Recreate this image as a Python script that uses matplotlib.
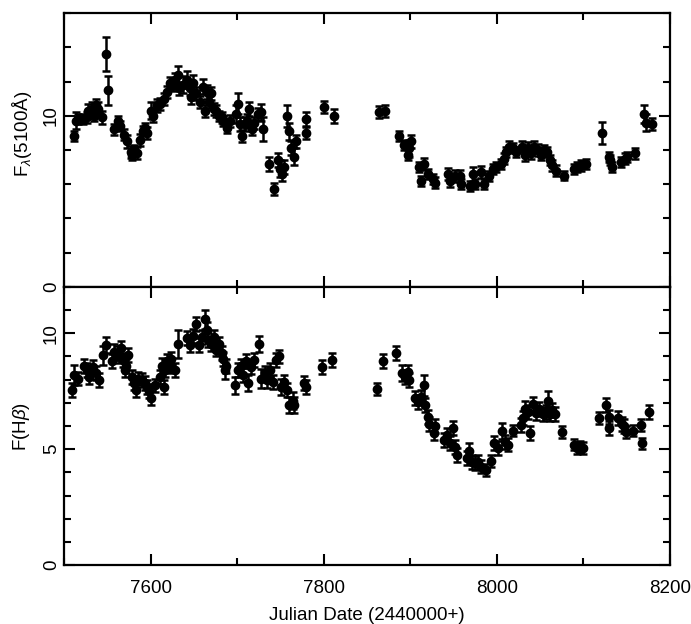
import matplotlib
matplotlib.use("Agg")
import matplotlib.pyplot as plt
from matplotlib.ticker import MultipleLocator
import numpy as np

plt.rcParams['font.family'] = ['Liberation Sans', 'DejaVu Sans']
plt.rcParams['mathtext.fontset'] = 'custom'
plt.rcParams['mathtext.rm'] = 'Liberation Sans'
plt.rcParams['mathtext.it'] = 'Liberation Sans:italic'

# continuum flux F_lambda(5100A): date, flux, error
cont_jd = [7511, 7514, 7516, 7522, 7526, 7528, 7532, 7535, 7537, 7539, 7544, 7548, 7551,
           7558, 7562, 7565, 7569, 7573, 7577, 7579, 7581, 7584, 7588, 7591, 7594, 7596,
           7600, 7603, 7607, 7611, 7615, 7619, 7622, 7626, 7628, 7632, 7633, 7638, 7642,
           7645, 7647, 7649, 7653, 7657, 7661, 7663, 7665, 7668, 7670, 7673, 7676, 7679,
           7682, 7684, 7688, 7692, 7699, 7701, 7703, 7706, 7709, 7711, 7714, 7717, 7720,
           7724, 7728, 7730, 7737, 7743, 7747, 7749, 7752, 7754, 7758, 7760, 7762, 7766,
           7768, 7779, 7780, 7800, 7812,
           7864, 7871, 7887, 7893, 7897, 7899, 7901, 7910, 7912, 7916, 7920, 7926, 7929,
           7943, 7946, 7952, 7957, 7959, 7969, 7972, 7975, 7982, 7985, 7991, 7996, 7999,
           8005, 8008, 8011, 8014, 8019, 8022, 8029, 8032, 8036, 8040, 8043, 8047, 8051,
           8055, 8058, 8061, 8064, 8068, 8078, 8089, 8093, 8097, 8103, 8122, 8129, 8131,
           8133, 8143, 8148, 8150, 8160, 8170, 8172, 8179]
cont_flux = [8.8, 9.7, 9.8, 9.8, 9.9, 10.3, 10.4, 10.0, 10.6, 10.4, 9.9, 13.6, 11.5,
             9.2, 9.7, 9.4, 8.9, 8.5, 7.9, 7.7, 8.0, 7.8, 8.6, 9.1, 9.3, 9.0,
             10.3, 10.0, 10.6, 10.7, 11.0, 11.4, 11.9, 11.8, 12.1, 12.4, 11.6, 11.8, 12.1,
             11.6, 11.1, 11.9, 11.3, 10.8, 11.7, 10.3, 11.4, 10.8, 11.3, 10.4, 10.3, 10.0,
             9.9, 9.7, 9.3, 9.7, 10.1, 10.7, 9.5, 8.8, 9.5, 9.7, 10.4, 9.2, 9.6,
             10.1, 10.2, 9.2, 7.2, 5.7, 7.4, 6.9, 6.6, 7.0, 10.0, 9.1, 8.1, 7.6,
             8.5, 9.0, 9.8, 10.5, 10.0,
             10.2, 10.3, 8.8, 8.3, 7.7, 8.1, 8.5, 7.0, 6.2, 7.2, 6.6, 6.3, 6.1,
             6.6, 6.2, 6.5, 6.5, 6.0, 5.9, 6.6, 6.0, 6.7, 6.0, 6.5, 6.9, 7.0,
             7.2, 7.5, 7.9, 8.2, 8.1, 7.9, 8.2, 7.7, 8.1, 7.8, 8.2, 8.0, 7.7,
             8.0, 7.9, 7.4, 7.1, 6.8, 6.5, 6.9, 7.0, 7.1, 7.2, 9.0, 7.6, 7.4,
             7.0, 7.3, 7.5, 7.6, 7.8, 10.1, 9.6, 9.5]
cont_err = [0.3, 0.5, 0.3, 0.3, 0.3, 0.4, 0.4, 0.3, 0.4, 0.4, 0.4, 1.0, 0.85,
            0.3, 0.3, 0.3, 0.3, 0.4, 0.35, 0.3, 0.3, 0.35, 0.35, 0.3, 0.3, 0.35,
            0.5, 0.35, 0.4, 0.35, 0.35, 0.35, 0.35, 0.35, 0.4, 0.5, 0.4, 0.5, 0.5,
            0.4, 0.4, 0.5, 0.4, 0.35, 0.45, 0.35, 0.4, 0.35, 0.4, 0.35, 0.35, 0.3,
            0.3, 0.3, 0.3, 0.35, 0.5, 0.6, 0.4, 0.35, 0.4, 0.4, 0.4, 0.35, 0.35,
            0.35, 0.5, 0.7, 0.4, 0.35, 0.4, 0.5, 0.4, 0.4, 0.65, 0.5, 0.4, 0.5,
            0.4, 0.35, 0.4, 0.35, 0.4,
            0.35, 0.35, 0.3, 0.3, 0.3, 0.5, 0.4, 0.3, 0.3, 0.35, 0.3, 0.3, 0.3,
            0.35, 0.35, 0.35, 0.35, 0.3, 0.3, 0.4, 0.3, 0.35, 0.3, 0.3, 0.3, 0.3,
            0.3, 0.3, 0.3, 0.3, 0.3, 0.3, 0.3, 0.35, 0.35, 0.35, 0.35, 0.35, 0.3,
            0.3, 0.3, 0.3, 0.3, 0.3, 0.25, 0.3, 0.3, 0.3, 0.3, 0.65, 0.3, 0.3,
            0.3, 0.3, 0.3, 0.3, 0.3, 0.5, 0.5, 0.35]

# H-beta line flux: date, flux, error
hb_jd = [7509, 7512, 7516, 7523, 7526, 7529, 7532, 7534, 7537, 7541, 7545, 7548, 7555,
         7558, 7562, 7564, 7566, 7568, 7570, 7572, 7574, 7578, 7581, 7583, 7586, 7590,
         7593, 7596, 7598, 7600, 7605, 7611, 7613, 7615, 7617, 7619, 7623, 7624, 7628,
         7632, 7642, 7645, 7649, 7652, 7656, 7659, 7663, 7665, 7666, 7670, 7673, 7676,
         7679, 7682, 7684, 7686, 7687, 7698, 7701, 7705, 7707, 7710, 7712, 7716, 7719,
         7725, 7728, 7732, 7735, 7738, 7741, 7745, 7748, 7751, 7754, 7758, 7760, 7764,
         7766, 7777, 7779, 7798, 7810,
         7861, 7868, 7884, 7891, 7894, 7897, 7899, 7905, 7909, 7912, 7916, 7917, 7920,
         7922, 7929, 7927, 7939, 7942, 7946, 7949, 7952, 7954, 7965, 7968, 7971, 7975,
         7978, 7982, 7988, 7993, 7997, 8001, 8006, 8009, 8013, 8019, 8028, 8030, 8032,
         8036, 8038, 8042, 8045, 8049, 8053, 8057, 8059, 8061, 8064, 8067, 8075, 8089,
         8092, 8096, 8100, 8118, 8126, 8129, 8130, 8140, 8144, 8147, 8149, 8157, 8167,
         8168, 8176]
hb_flux = [7.55, 8.2, 8.05, 8.6, 8.4, 8.1, 8.35, 8.55, 8.3, 8.0, 9.05, 9.5, 8.8,
           9.2, 9.15, 9.0, 9.35, 8.85, 8.4, 8.6, 9.05, 8.1, 7.85, 7.55, 8.05, 8.0,
           7.85, 7.7, 7.5, 7.2, 7.75, 8.1, 8.6, 7.7, 8.4, 8.8, 8.6, 8.9, 8.4,
           9.55, 9.8, 9.5, 9.9, 10.4, 9.5, 9.85, 10.6, 10.15, 9.7, 9.55, 9.85, 9.3,
           9.55, 9.15, 8.9, 8.4, 8.6, 7.75, 8.4, 8.6, 8.2, 8.8, 7.85, 8.55, 8.85,
           9.55, 8.05, 8.3, 8.0, 8.4, 7.9, 8.85, 9.0, 7.7, 7.9, 7.55, 6.9, 7.1,
           6.9, 7.85, 7.7, 8.55, 8.85,
           7.6, 8.8, 9.15, 8.3, 8.1, 8.35, 8.0, 7.2, 7.05, 7.25, 7.75, 6.9, 6.4,
           6.1, 6.0, 5.7, 5.4, 5.6, 5.25, 5.9, 5.1, 4.75, 4.6, 4.9, 4.45, 4.4,
           4.45, 4.25, 4.1, 4.5, 5.25, 5.05, 5.8, 5.3, 5.2, 5.8, 6.05, 6.35, 6.75,
           6.6, 5.7, 6.95, 6.55, 6.75, 6.5, 6.6, 7.1, 6.5, 6.7, 6.5, 5.75, 5.2,
           5.05, 5.1, 5.05, 6.35, 6.9, 6.4, 5.9, 6.35, 6.1, 6.0, 5.75, 5.8, 6.05,
           5.25, 6.6]
hb_err = [0.3, 0.45, 0.3, 0.3, 0.3, 0.3, 0.3, 0.3, 0.3, 0.3, 0.4, 0.35, 0.3,
          0.35, 0.3, 0.3, 0.3, 0.3, 0.3, 0.3, 0.3, 0.3, 0.3, 0.3, 0.3, 0.3,
          0.3, 0.3, 0.3, 0.3, 0.3, 0.3, 0.35, 0.3, 0.3, 0.3, 0.3, 0.3, 0.3,
          0.6, 0.3, 0.3, 0.3, 0.3, 0.3, 0.3, 0.4, 0.35, 0.3, 0.3, 0.3, 0.3,
          0.3, 0.3, 0.3, 0.35, 0.3, 0.35, 0.3, 0.3, 0.3, 0.3, 0.35, 0.3, 0.3,
          0.35, 0.4, 0.3, 0.35, 0.3, 0.3, 0.3, 0.3, 0.35, 0.3, 0.3, 0.35, 0.35,
          0.35, 0.3, 0.3, 0.3, 0.3,
          0.25, 0.3, 0.3, 0.35, 0.3, 0.3, 0.3, 0.3, 0.3, 0.3, 0.45, 0.3, 0.3,
          0.3, 0.3, 0.3, 0.3, 0.3, 0.3, 0.3, 0.3, 0.3, 0.3, 0.35, 0.3, 0.3,
          0.3, 0.3, 0.25, 0.25, 0.3, 0.3, 0.35, 0.3, 0.3, 0.25, 0.3, 0.3, 0.35,
          0.3, 0.3, 0.3, 0.3, 0.3, 0.3, 0.3, 0.4, 0.3, 0.3, 0.3, 0.25, 0.25,
          0.25, 0.25, 0.25, 0.25, 0.3, 0.3, 0.3, 0.3, 0.3, 0.3, 0.25, 0.25, 0.25,
          0.25, 0.3]

fig = plt.figure(figsize=(6.91, 6.24), dpi=100)
ax1 = fig.add_axes([64 / 691, 1 - 287 / 624, 606 / 691, 274 / 624])
ax2 = fig.add_axes([64 / 691, 1 - 565 / 624, 606 / 691, 278 / 624], sharex=ax1)

# filled dots with capped error bars, like the original scan
style = dict(fmt='o', color='black', ms=6, elinewidth=1.8, capsize=3, capthick=1.8)
ax1.errorbar(cont_jd, cont_flux, yerr=cont_err, **style)
ax2.errorbar(hb_jd, hb_flux, yerr=hb_err, **style)

ax1.set_xlim(7500, 8200)
ax1.set_ylim(0, 16)
ax2.set_ylim(0, 12)

ax1.yaxis.set_major_locator(MultipleLocator(10))
ax1.yaxis.set_minor_locator(MultipleLocator(2))
ax2.yaxis.set_major_locator(MultipleLocator(5))
ax2.yaxis.set_minor_locator(MultipleLocator(1))

for ax in (ax1, ax2):
    ax.xaxis.set_major_locator(MultipleLocator(200))
    ax.xaxis.set_minor_locator(MultipleLocator(100))
    ax.tick_params(which='both', direction='in', top=True, right=True, width=1.5)
    ax.tick_params(which='major', length=8)
    ax.tick_params(which='minor', length=5)
    ax.tick_params(axis='x', which='major', labelsize=13.5, pad=11)
    ax.tick_params(axis='y', which='major', labelsize=13.5, pad=3)
    plt.setp(ax.get_yticklabels(), rotation=90, va='center')
    for sp in ax.spines.values():
        sp.set_linewidth(1.6)

ax1.tick_params(axis='x', labelbottom=False)

ax1.set_ylabel(r'F$_\lambda$(5100Å)', fontsize=13.5)
ax1.yaxis.set_label_coords(-0.049, 0.56)
ax2.set_ylabel(r'F(H$\beta$)', fontsize=13.5)
ax2.yaxis.set_label_coords(-0.053, 0.5)
ax2.set_xlabel('Julian Date (2440000+)', fontsize=13.5, labelpad=7)

fig.savefig('out.png', dpi=100)
